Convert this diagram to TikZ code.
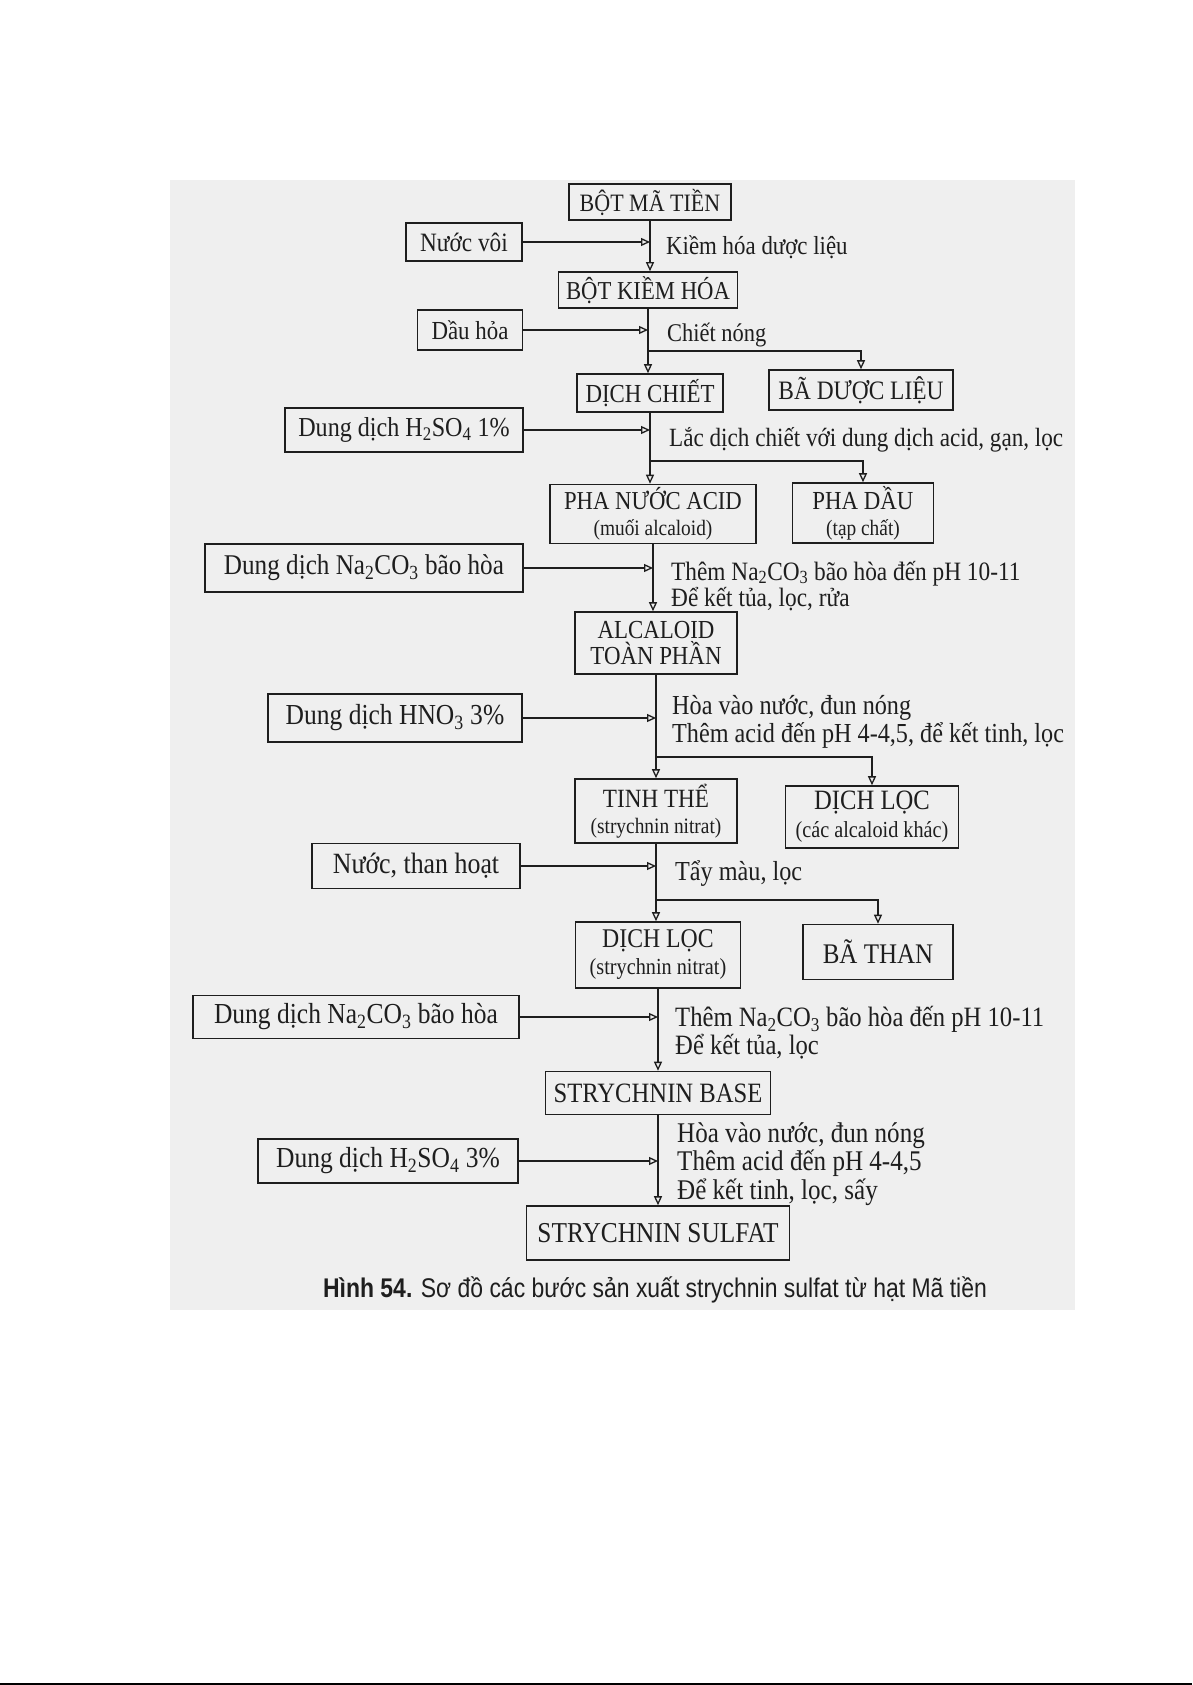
\documentclass[tikz,border=0pt]{standalone}
\usepackage{fontspec}
\setmainfont{Liberation Serif}[FakeStretch=0.88]
\newfontfamily\capfont{Liberation Sans}[FakeStretch=0.85]
\usetikzlibrary{arrows.meta}
\definecolor{bg}{HTML}{EFEFEF}
\definecolor{ink}{HTML}{1E1E1E}
\begin{document}
\begin{tikzpicture}[x=1pt,y=-1pt,
  every node/.style={text=ink, font=\fontsize{25}{25}\selectfont},
  fz/.style={font=\fontsize{#1}{#1}\selectfont},
  box/.style={draw=ink, line width=1.6pt, inner sep=0pt, align=center},
  lab/.style={anchor=west, align=left, inner sep=0pt},
  flow/.style={draw=ink, line width=1.4pt, -{Triangle[open,length=9pt,width=8pt,line width=1.3pt]}}]
\useasboundingbox (0,0) rectangle (1192,1685);
\fill[white] (0,0) rectangle (1192,1685);
\fill[bg] (170,180) rectangle (1075,1310);
\fill[black] (0,1683) rectangle (1192,1685);

% main column
\node[box, fz=25, minimum width=162, minimum height=36] (n1) at (650,202) {BỘT MÃ TIỀN};
\node[box, fz=25.8, minimum width=179, minimum height=36] (n3) at (648,290) {BỘT KIỀM HÓA};
\node[box, fz=26, minimum width=146, minimum height=38] (n5) at (650,393) {DỊCH CHIẾT};
\node[box, fz=25.8, minimum width=206, minimum height=59] (n8) at (653,514) {PHA NƯỚC ACID\\{\fontsize{22}{22}\selectfont (muối alcaloid)}};
\node[box, fz=26, minimum width=162, minimum height=62] (n11) at (656,643) {ALCALOID\\TOÀN PHẦN};
\node[box, fz=26.3, minimum width=162, minimum height=64] (n13) at (656,811) {TINH THỂ\\{\fontsize{22}{22}\selectfont (strychnin nitrat)}};
\node[box, fz=27, minimum width=165, minimum height=66] (n16) at (658,955) {DỊCH LỌC\\{\fontsize{23}{23}\selectfont (strychnin nitrat)}};
\node[box, fz=28, minimum width=225, minimum height=43] (n19) at (658,1093) {STRYCHNIN BASE};
\node[box, fz=28.8, minimum width=263, minimum height=54] (n21) at (658,1233) {STRYCHNIN SULFAT};

% side products
\node[box, fz=26.6, minimum width=184, minimum height=40] (n6) at (861,390) {BÃ DƯỢC LIỆU};
\node[box, fz=26, minimum width=141, minimum height=60] (n9) at (863,513) {PHA DẦU\\{\fontsize{22}{22}\selectfont (tạp chất)}};
\node[box, fz=28, minimum width=173, minimum height=62] (n14) at (872,817) {DỊCH LỌC\\{\fontsize{23}{23}\selectfont (các alcaloid khác)}};
\node[box, fz=28.4, minimum width=150, minimum height=55] (n17) at (878,952) {BÃ THAN};

% inputs
\node[box, fz=26.5, minimum width=116, minimum height=38] (i1) at (464,242) {Nước vôi};
\node[box, fz=26, minimum width=105, minimum height=40] (i2) at (470,330) {Dầu hỏa};
\node[box, fz=27.4, minimum width=238, minimum height=44] (i3) at (404,430) {Dung dịch H\textsubscript{2}SO\textsubscript{4} 1\%};
\node[box, fz=28.6, minimum width=318, minimum height=48] (i4) at (364,568) {Dung dịch Na\textsubscript{2}CO\textsubscript{3} bão hòa};
\node[box, fz=29, minimum width=254, minimum height=48] (i5) at (395,718) {Dung dịch HNO\textsubscript{3} 3\%};
\node[box, fz=29.4, minimum width=208, minimum height=45] (i6) at (416,866) {Nước, than hoạt};
\node[box, fz=29, minimum width=326, minimum height=43] (i7) at (356,1017) {Dung dịch Na\textsubscript{2}CO\textsubscript{3} bão hòa};
\node[box, fz=29, minimum width=260, minimum height=44] (i8) at (388,1161) {Dung dịch H\textsubscript{2}SO\textsubscript{4} 3\%};

% step labels
\node[lab, fz=26] (l1) at (666,247) {Kiềm hóa dược liệu};
\node[lab, fz=25.5] (l2) at (667,335) {Chiết nóng};
\node[lab, fz=26.3] (l3) at (669,440) {Lắc dịch chiết với dung dịch acid, gạn, lọc};
\node[lab, fz=26.5] (l4) at (671,586) {Thêm Na\textsubscript{2}CO\textsubscript{3} bão hòa đến pH 10-11\\Để kết tủa, lọc, rửa};
\node[lab, fz=27.5] (l5) at (672,722) {Hòa vào nước, đun nóng\\Thêm acid đến pH 4-4,5, để kết tinh, lọc};
\node[lab, fz=27.5] (l6) at (675,873) {Tẩy màu, lọc};
\node[lab, fz=28] (l7) at (675,1033) {Thêm Na\textsubscript{2}CO\textsubscript{3} bão hòa đến pH 10-11\\Để kết tủa, lọc};
\node[lab, fz=28.5] (l8) at (677,1164) {Hòa vào nước, đun nóng\\Thêm acid đến pH 4-4,5\\Để kết tinh, lọc, sấy};

% caption
\node[inner sep=0pt, font=\capfont\fontsize{27}{27}\selectfont] (cap) at (655,1290)
  {\textbf{Hình 54.} Sơ đồ các bước sản xuất strychnin sulfat từ hạt Mã tiền};

% branch heights
\coordinate (y1) at (0,351);
\coordinate (y2) at (0,461);
\coordinate (y3) at (0,757);
\coordinate (y4) at (0,900);

% spine
\draw[flow] (n1.south) -- (n1.south |- n3.north);
\draw[flow] (n3.south) -- (n3.south |- n5.north);
\draw[flow] (n5.south) -- (n5.south |- n8.north);
\draw[flow] (n8.south) -- (n8.south |- n11.north);
\draw[flow] (n11.south) -- (n11.south |- n13.north);
\draw[flow] (n13.south) -- (n13.south |- n16.north);
\draw[flow] (n16.south) -- (n16.south |- n19.north);
\draw[flow] (n19.south) -- (n19.south |- n21.north);

% branches
\draw[flow] (n3.south |- y1) -| (n6.north);
\draw[flow] (n5.south |- y2) -| (n9.north);
\draw[flow] (n11.south |- y3) -| (n14.north);
\draw[flow] (n13.south |- y4) -| (n17.north);

% inputs
\draw[flow] (i1.east) -- (i1.east -| n1.south);
\draw[flow] (i2.east) -- (i2.east -| n3.south);
\draw[flow] (i3.east) -- (i3.east -| n5.south);
\draw[flow] (i4.east) -- (i4.east -| n8.south);
\draw[flow] (i5.east) -- (i5.east -| n11.south);
\draw[flow] (i6.east) -- (i6.east -| n13.south);
\draw[flow] (i7.east) -- (i7.east -| n16.south);
\draw[flow] (i8.east) -- (i8.east -| n19.south);
\end{tikzpicture}
\end{document}
